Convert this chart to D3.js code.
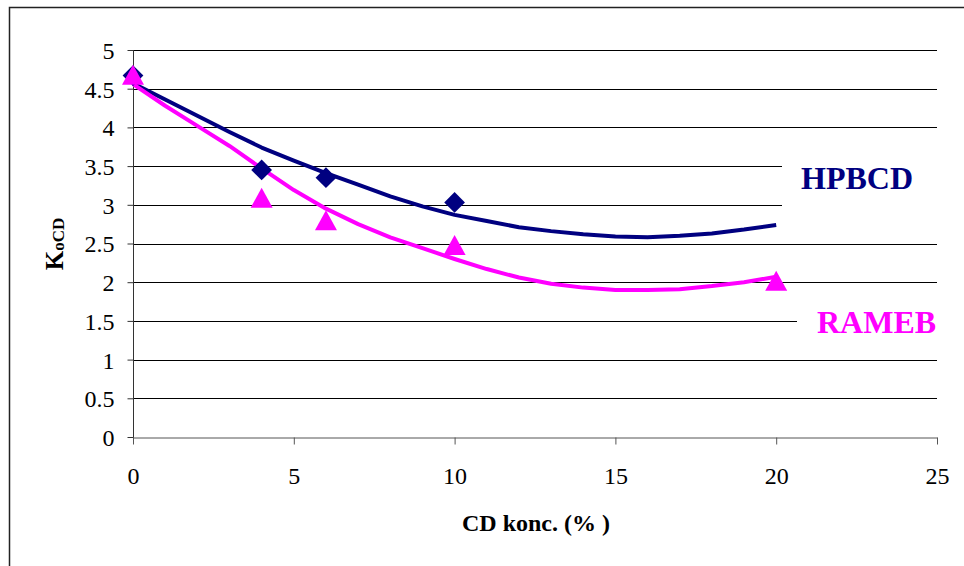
<!DOCTYPE html>
<html>
<head>
<meta charset="utf-8">
<script src="https://cdn.jsdelivr.net/npm/d3@7"></script>
<style>
  svg, svg text, svg .tick text { font-family: 'Liberation Serif', serif !important; }
</style>
</head>
<body style="margin:0">
<div id="container"></div>
<script>
let w = 964;
let h = 566;
let fontSerif = "'Liberation Serif', serif";

// measured points
let hpbcdX = [0, 4, 6, 10];
let hpbcdY = [4.67, 3.45, 3.35, 3.03];
let ramebX = [0, 4, 6, 10, 20];
let ramebY = [4.68, 3.09, 2.80, 2.48, 2.02];

// trend lines, x = 0..20
let trendX = [0, 1, 2, 3, 4, 5, 6, 7, 8, 9, 10, 11, 12, 13, 14, 15, 16, 17, 18, 19, 20];
let hpbcdTrend = [4.57, 4.36, 4.15, 3.94, 3.74, 3.57, 3.41, 3.26, 3.11, 2.98, 2.87, 2.79, 2.71, 2.66, 2.62, 2.59, 2.58, 2.60, 2.63, 2.68, 2.74];
let ramebTrend = [4.56, 4.28, 4.02, 3.76, 3.47, 3.19, 2.95, 2.75, 2.58, 2.44, 2.30, 2.17, 2.06, 1.98, 1.93, 1.90, 1.90, 1.91, 1.95, 2.00, 2.07];

let xTicks = [0, 5, 10, 15, 20, 25];
let yTicks = [0, 0.5, 1, 1.5, 2, 2.5, 3, 3.5, 4, 4.5, 5];

let navy = "#000080";
let pink = "#ff00ff";

let viz = d3.select("#container")
  .append("svg")
    .attr("width", w)
    .attr("height", h)
    .attr("font-family", fontSerif)
;

// outer frame (runs off the right/bottom edge)
viz.append("rect")
  .attr("x", 9.5).attr("y", 7.5)
  .attr("width", 1000).attr("height", 700)
  .attr("fill", "white")
  .attr("stroke", "#222")
  .attr("stroke-width", 1.5);

let xScale = d3.scaleLinear().domain([0, 25]).range([133, 937]);
let yScale = d3.scaleLinear().domain([0, 5]).range([437, 50]);

// gridlines
viz.append("g").selectAll("line").data(yTicks.filter(d => d > 0)).enter()
  .append("line")
    .attr("x1", xScale(0)).attr("x2", xScale(25))
    .attr("y1", d => Math.round(yScale(d)) + 0.5)
    .attr("y2", d => Math.round(yScale(d)) + 0.5)
    .attr("stroke", "#000")
    .attr("stroke-width", 1);

// white label boxes, they hide part of the gridlines
viz.append("rect").attr("x", 782).attr("y", 158).attr("width", 175).attr("height", 52).attr("fill", "white");
viz.append("rect").attr("x", 797).attr("y", 300).attr("width", 160).attr("height", 45).attr("fill", "white");

// y axis
let yAxis = d3.axisLeft(yScale).tickValues(yTicks).tickSize(6).tickFormat(d3.format("~g"));
let yAxisGroup = viz.append("g").attr("transform", "translate(" + (xScale(0) + 0.5) + ",0)").call(yAxis);
yAxisGroup.attr("font-family", fontSerif).attr("font-size", 24);
yAxisGroup.select(".domain").attr("d", "M0," + yScale(5) + "V" + (yScale(0) + 7)).attr("stroke", "#333");
yAxisGroup.selectAll(".tick line").attr("stroke", "#333");
yAxisGroup.selectAll("text")
  .attr("x", -19)
  .attr("dy", "0.35em")
  .attr("font-family", fontSerif)
  .attr("fill", "#000");

// x axis
let xAxis = d3.axisBottom(xScale).tickValues(xTicks).tickSize(7).tickSizeOuter(0);
let xAxisGroup = viz.append("g").attr("transform", "translate(0," + (yScale(0) + 0.5) + ")").call(xAxis);
xAxisGroup.attr("font-family", fontSerif).attr("font-size", 24);
xAxisGroup.select(".domain").attr("stroke", "#555");
xAxisGroup.selectAll(".tick line").attr("stroke", "#555");
xAxisGroup.selectAll("text")
  .attr("y", 29)
  .attr("dy", "0.71em")
  .attr("font-family", fontSerif)
  .attr("fill", "#000");

// trend lines
let line = d3.line()
  .x(d => xScale(d[0]))
  .y(d => yScale(d[1]));

viz.append("path")
  .datum(d3.zip(trendX, hpbcdTrend))
  .attr("d", line)
  .attr("fill", "none")
  .attr("stroke", navy)
  .attr("stroke-width", 4)
  .attr("stroke-linejoin", "round");

viz.append("path")
  .datum(d3.zip(trendX, ramebTrend))
  .attr("d", line)
  .attr("fill", "none")
  .attr("stroke", pink)
  .attr("stroke-width", 4)
  .attr("stroke-linejoin", "round");

// markers
viz.append("g").selectAll("path").data(d3.zip(hpbcdX, hpbcdY)).enter()
  .append("path")
    .attr("d", d3.symbol().type(d3.symbolSquare).size(215))
    .attr("transform", d => "translate(" + xScale(d[0]) + "," + yScale(d[1]) + ") rotate(45)")
    .attr("fill", navy);

function trianglePath(){
  return "M0,-10L11,10L-11,10Z";
}
viz.append("g").selectAll("path").data(d3.zip(ramebX, ramebY)).enter()
  .append("path")
    .attr("d", trianglePath)
    .attr("transform", d => "translate(" + xScale(d[0]) + "," + yScale(d[1]) + ")")
    .attr("fill", pink);

// series labels
viz.append("text")
  .attr("x", 801).attr("y", 189)
  .attr("font-family", fontSerif)
  .attr("font-size", 32).attr("font-weight", "bold")
  .attr("fill", navy)
  .text("HPBCD");

viz.append("text")
  .attr("x", 817).attr("y", 333)
  .attr("font-family", fontSerif)
  .attr("font-size", 32).attr("font-weight", "bold")
  .attr("fill", pink)
  .text("RAMEB");

// axis titles
viz.append("text")
  .attr("x", 536).attr("y", 531)
  .attr("text-anchor", "middle")
  .attr("font-family", fontSerif)
  .attr("font-size", 24).attr("font-weight", "bold")
  .text("CD konc. (% )");

let yTitle = viz.append("text")
  .attr("transform", "translate(63,244) rotate(-90)")
  .attr("text-anchor", "middle")
  .attr("font-family", fontSerif)
  .attr("font-weight", "bold");
yTitle.append("tspan").attr("font-size", 25).text("K");
yTitle.append("tspan").attr("font-size", 17).attr("dy", 1).text("oCD");
</script>
</body>
</html>
